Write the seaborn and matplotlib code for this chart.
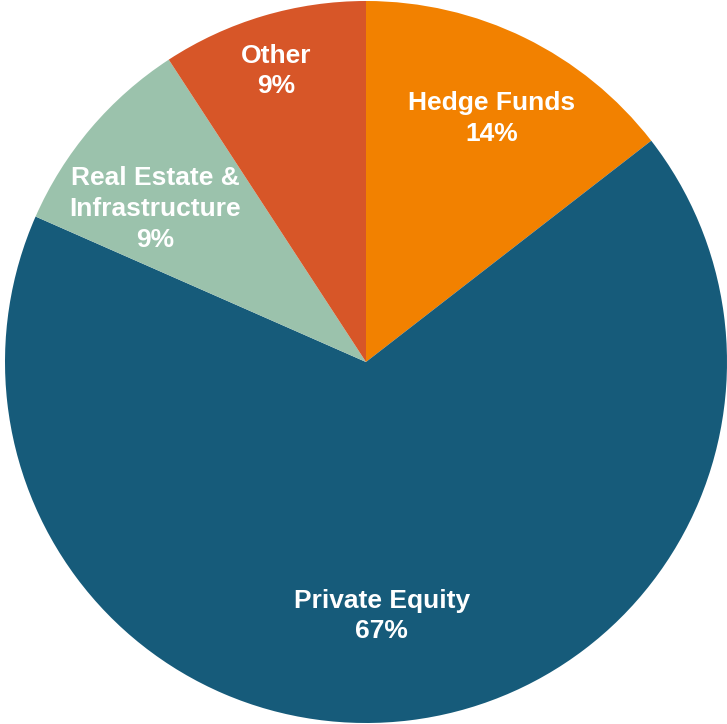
import matplotlib
matplotlib.use("Agg")
import matplotlib.pyplot as plt
import seaborn as sns
import numpy as np

categories = ["Hedge Funds", "Private Equity", "Real Estate &\nInfrastructure", "Other"]
values = [14.5, 67.1, 9.2, 9.2]
pct_labels = ["14%", "67%", "9%", "9%"]
colors = ["#F28100", "#165B7A", "#9BC2AC", "#D75628"]
label_pos = [(0.349, 0.674), (0.044, -0.704), (-0.584, 0.424), (-0.249, 0.806)]

sns.set_style("white")
plt.rcParams['font.family'] = ['Liberation Sans', 'DejaVu Sans']

fig = plt.figure(figsize=(7.27, 7.24), dpi=100)
ax = fig.add_axes([0, 0, 1, 1])
wedges, _ = ax.pie(values, colors=colors, startangle=90, counterclock=False,
                   radius=1.0, wedgeprops=dict(linewidth=0))
for cat, pct, (x, y) in zip(categories, pct_labels, label_pos):
    ax.text(x, y, f"{cat}\n{pct}", ha="center", va="center",
            color="white", fontsize=19, fontweight="bold", linespacing=1.35)
ax.set_xlim(-366 / 361, (727 - 366) / 361)
ax.set_ylim(-(724 - 362) / 361, 362 / 361)
ax.set_aspect("auto")
ax.axis("off")
fig.savefig("out.png", dpi=100, facecolor="white")
